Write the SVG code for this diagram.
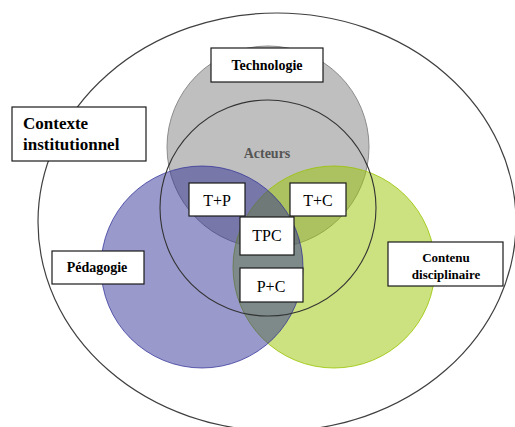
<svg xmlns="http://www.w3.org/2000/svg" width="515" height="427" viewBox="0 0 515 427">
<style>
.box{fill:#fff;stroke:#1a1a1a;stroke-width:1.2}
text{font-family:'Liberation Serif',Tinos,'Times New Roman',Times,serif}
.lbl{font-weight:bold;fill:#000;text-anchor:middle}
.left{text-anchor:start}
.sm{font-size:16px;fill:#000;text-anchor:middle}
</style>
<rect width="515" height="427" fill="#fff"/>
<g id="contexte-ellipse">
<ellipse cx="277" cy="222" rx="239" ry="209" fill="none" stroke="#404040" stroke-width="1.2"/>
</g>
<g id="technologie-circle">
<circle cx="268" cy="147" r="101" fill="#808080" fill-opacity="0.5" stroke="#8c8c8c" stroke-width="1"/>
</g>
<g id="contenu-circle">
<circle cx="334" cy="267" r="101" fill="#99c400" fill-opacity="0.5" stroke="#99c400" stroke-opacity="0.8" stroke-width="1"/>
</g>
<g id="pedagogie-circle">
<circle cx="202" cy="267" r="101" fill="#2a2a95" fill-opacity="0.48" stroke="#2a2a95" stroke-opacity="0.7" stroke-width="1"/>
</g>
<g id="acteurs">
<circle cx="268" cy="208" r="108" fill="none" stroke="#333" stroke-width="1.1"/>
<text x="267" y="158" font-weight="bold" font-size="14" fill="#555" text-anchor="middle">Acteurs</text>
</g>
<g id="technologie">
<rect class="box" x="211" y="48" width="112" height="34"/>
<text class="lbl" x="267" y="70" font-size="14">Technologie</text>
</g>
<g id="contexte">
<rect class="box" x="12" y="107" width="134" height="54"/>
<text class="lbl left" x="23" y="129" font-size="17">Contexte</text>
<text class="lbl left" x="23" y="150" font-size="17">institutionnel</text>
</g>
<g id="pedagogie">
<rect class="box" x="52" y="251" width="92" height="33"/>
<text class="lbl" x="97" y="272" font-size="14">Pédagogie</text>
</g>
<g id="contenu">
<rect class="box" x="388" y="242" width="115" height="44"/>
<text class="lbl" x="446" y="262" font-size="13">Contenu</text>
<text class="lbl" x="446" y="279" font-size="13">disciplinaire</text>
</g>
<g id="tp">
<rect class="box" x="189" y="183" width="56" height="33"/>
<text class="sm" x="217" y="206">T+P</text>
</g>
<g id="tc">
<rect class="box" x="290" y="183" width="56" height="33"/>
<text class="sm" x="318" y="206">T+C</text>
</g>
<g id="tpc">
<rect class="box" x="240" y="217" width="54" height="38"/>
<text class="sm" x="267" y="241">TPC</text>
</g>
<g id="pc">
<rect class="box" x="240" y="268" width="63" height="34"/>
<text class="sm" x="271" y="292">P+C</text>
</g>
<g id="connectors"/>
</svg>
